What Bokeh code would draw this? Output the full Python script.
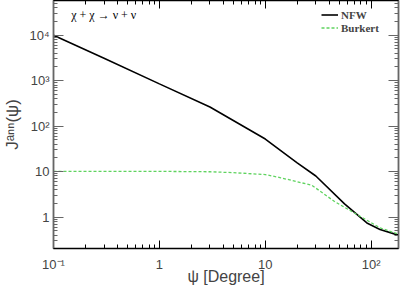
from bokeh.plotting import figure
from bokeh.models import LogAxis, Label, Legend, LegendItem, FixedTicker
from bokeh.embed import file_html
from bokeh.resources import INLINE

# data
nfw_psi = [0.1, 0.3, 1, 3, 10, 20, 30, 56, 91, 121, 180]
nfw_j = [10000, 3100, 850, 263, 52, 15.5, 8.0, 1.94, 0.74, 0.53, 0.40]
bur_psi = [0.1, 0.3, 1, 3, 4.8, 10, 14, 27.5, 45, 65, 121, 180]
bur_j = [10.1, 10.1, 10.1, 9.9, 9.5, 8.6, 7.3, 5.0, 2.2, 1.34, 0.58, 0.42]
x_ticks = [0.1, 1, 10, 100]
x_tick_labels = {0.1: "10⁻¹", 1: "1", 10: "10", 100: "10²"}
y_ticks = [1, 10, 100, 1000, 10000]
y_tick_labels = {1: "1", 10: "10", 100: "10²", 1000: "10³", 10000: "10⁴"}
x_title = "ψ [Degree]"
y_title = "Jᵃⁿⁿ(ψ)"
process = "χ + χ → ν + ν"
names = ["NFW", "Burkert"]


def minors(majors):
    return [m * k for m in [majors[0] / 10] + majors for k in range(2, 10)]


def xt():
    return FixedTicker(ticks=x_ticks, minor_ticks=minors(x_ticks))


def yt():
    return FixedTicker(ticks=y_ticks, minor_ticks=minors(y_ticks))


FH = 248
p = figure(width=401, height=287, x_axis_type="log", y_axis_type="log",
           x_range=(0.1, 181), y_range=(0.203, 5.8e4),
           output_backend="svg", toolbar_location=None,
           min_border_left=42, min_border_right=3, min_border_top=0, min_border_bottom=39)
p.grid.visible = False
p.outline_line_color = "black"
p.outline_line_width = 1.5

l1 = p.line(nfw_psi, nfw_j, line_color="black", line_width=1.6)
l2 = p.line(bur_psi, bur_j, line_color="#5fd35f", line_width=1.3, line_dash="3 2")

for ax in p.xaxis:
    ax.ticker = xt()
    ax.major_label_overrides = x_tick_labels
    ax.axis_label = x_title
for ax in p.yaxis:
    ax.ticker = yt()
    ax.major_label_overrides = y_tick_labels
    ax.axis_label = y_title

for ax in list(p.xaxis) + list(p.yaxis):
    ax.major_tick_in = 8
    ax.major_tick_out = 0
    ax.minor_tick_in = 4
    ax.minor_tick_out = 0
    ax.major_label_text_font = "Liberation Sans"
    ax.major_label_text_font_size = "13px"
    ax.major_label_standoff = 4
    ax.axis_label_text_font = "Liberation Sans"
    ax.axis_label_text_font_style = "normal"
    ax.axis_label_standoff = 4
    ax.axis_line_color = "black"
    ax.major_tick_line_color = "black"
    ax.minor_tick_line_color = "black"

p.xaxis.major_label_standoff = 8
p.xaxis.axis_label_standoff = -7
p.xaxis.axis_label_text_font_size = "16px"
p.yaxis.axis_label_text_font_size = "17px"
p.yaxis.axis_line_color = "#666666"
p.yaxis.major_tick_line_color = "#666666"
p.yaxis.minor_tick_line_color = "#666666"
p.yaxis.major_tick_in = 10

top = LogAxis(ticker=xt(), major_label_overrides={t: "" for t in x_ticks},
              major_tick_in=8, major_tick_out=0,
              minor_tick_in=4, minor_tick_out=0, major_label_standoff=0)
right = LogAxis(ticker=yt(), major_label_overrides={t: "" for t in y_ticks},
                major_tick_in=10, major_tick_out=0,
                minor_tick_in=4, minor_tick_out=0, major_label_standoff=0,
                axis_line_color="#666666", major_tick_line_color="#666666", minor_tick_line_color="#666666")
p.add_layout(top, "above")
p.add_layout(right, "right")

p.add_layout(Label(x=0.147, y=2.8e4, text=process, text_font="Liberation Serif",
                   text_font_size="12px", text_baseline="middle", text_color="black"))

legend = Legend(items=[LegendItem(label=names[0], renderers=[l1]),
                       LegendItem(label=names[1], renderers=[l2])],
                location=(268, FH - 34), label_text_font="Liberation Serif",
                label_text_font_style="bold", label_text_font_size="11px",
                background_fill_alpha=0, border_line_alpha=0,
                glyph_width=17, glyph_height=13, spacing=0, padding=0, margin=0,
                label_standoff=3, label_height=13)
p.add_layout(legend)

open("out.html", "w").write(file_html(p, INLINE))
